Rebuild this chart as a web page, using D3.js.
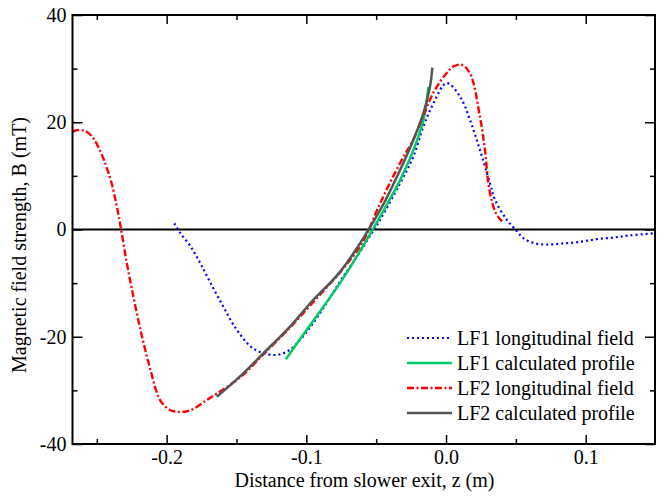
<!DOCTYPE html>
<html>
<head>
<meta charset="utf-8">
<script src="https://cdn.jsdelivr.net/npm/d3@7"></script>
<style>
  html, body { margin: 0; padding: 0; background: #fff; }
  svg text { font-family: "Liberation Serif", "Times New Roman", serif; fill: #000; }
</style>
</head>
<body>
<svg id="chart" width="665" height="496"></svg>
<script>
// ---- data (z in m, B in mT) ----
const lf1FieldZ = [-0.1945,-0.1904,-0.1833,-0.1761,-0.1689,-0.1594,-0.1498,-0.1379,-0.1236,-0.114,-0.1045,-0.0902,-0.0759,-0.0637,-0.0515,-0.0472,-0.0329,-0.0234,-0.0162,-0.0091,0.0005,0.0100,0.0172,0.0243,0.0315,0.0351,0.0435,0.0501,0.0553,0.0625,0.0721,0.0840,0.0959,0.1079,0.1198,0.1317,0.1496];
const lf1FieldB = [1.15,-0.6,-3.0,-6.2,-9.8,-14.4,-18.7,-22.2,-23.4,-22.8,-20.6,-15.6,-9.7,-5.0,0.0,1.8,8.6,13.6,19.2,23.5,27.3,24.8,20.4,14.8,8.6,5.5,1.8,-0.1,-1.6,-2.5,-2.8,-2.6,-2.3,-1.8,-1.5,-1.1,-0.7];

const lf1CalcZ = [-0.1147,-0.0997,-0.0759,-0.0615,-0.0472,-0.0329,-0.0234,-0.0162,-0.0126];
const lf1CalcB = [-24.2,-18.7,-10.0,-4.0,2.4,9.2,14.8,20.4,26.6];

const lf2FieldZ = [-0.2674,-0.2645,-0.261,-0.2565,-0.2525,-0.2485,-0.245,-0.240,-0.2356,-0.2326,-0.2287,-0.225,-0.219,-0.2118,-0.2047,-0.198,-0.1918,-0.1855,-0.1797,-0.1713,-0.1641,-0.1475,-0.1308,-0.1117,-0.095,-0.0759,-0.060,-0.0472,-0.0329,-0.0236,-0.0165,-0.0093,0.0005,0.0053,0.0112,0.0172,0.0243,0.0279,0.0303,0.0332,0.0358,0.0387,0.0415];
const lf2FieldB = [18.2,18.5,18.55,18.1,17.0,15.2,13.0,9.2,4.2,0.0,-6.0,-11.0,-18.4,-26.0,-31.8,-33.6,-34.0,-33.9,-33.3,-31.8,-30.6,-27.6,-23.3,-18.3,-13.5,-8.0,-2.5,4.9,12.4,16.7,21.0,25.4,29.2,30.4,30.7,29.1,21.0,14.8,8.6,4.9,3.0,1.9,1.2];

const lf2CalcZ = [-0.1641,-0.1475,-0.1308,-0.1117,-0.095,-0.0759,-0.0472,-0.0329,-0.0234,-0.0162,-0.0115,-0.0098];
const lf2CalcB = [-31.2,-27.4,-23.1,-18.1,-13.1,-7.9,3.6,11.1,16.7,21.7,26.6,30.2];

const xMajorTicks = [-0.2,-0.1,0.0,0.1];
const xMinorTicks = [-0.25,-0.15,-0.05,0.05];
const yMajorTicks = [-40,-20,0,20,40];
const yMinorTicks = [-30,-10,10,30];

const seriesNames = ["LF1 longitudinal field","LF1 calculated profile","LF2 longitudinal field","LF2 calculated profile"];

// ---- layout ----
const L = 72.5, R = 655, T = 15, B = 444;
const FS = 20;
const svg = d3.select("#chart");
const x = d3.scaleLinear().domain([-0.2674, 0.1496]).range([L, R]);
const y = d3.scaleLinear().domain([-40, 40]).range([B, T]);

const styles = [
  {color:"#0000ff", width:2.2, dash:"2,3"},
  {color:"#00cc66", width:2.5, dash:null},
  {color:"#ff0000", width:2.4, dash:"7,2.5,2,2.5"},
  {color:"#555555", width:2.5, dash:null}
];
const series = [
  [lf1FieldZ, lf1FieldB],
  [lf1CalcZ, lf1CalcB],
  [lf2FieldZ, lf2FieldB],
  [lf2CalcZ, lf2CalcB]
];

// zero line
svg.append("line")
  .attr("x1", x.range()[0]).attr("x2", x.range()[1])
  .attr("y1", y(0)).attr("y2", y(0))
  .attr("stroke", "#000").attr("stroke-width", 2);

const line = d3.line().x(d => x(d[0])).y(d => y(d[1])).curve(d3.curveCatmullRom.alpha(0.5));
const plotG = svg.append("g");
series.forEach((s, i) => {
  const pts = s[0].map((z, k) => [z, s[1][k]]);
  const st = styles[i];
  plotG.append("path")
    .attr("d", line(pts))
    .attr("fill", "none")
    .attr("stroke", st.color)
    .attr("stroke-width", st.width)
    .attr("stroke-dasharray", st.dash);
});

// axes with inward ticks
function styleAxis(g) {
  g.select(".domain").remove();
  g.selectAll(".tick line").attr("stroke", "#000").attr("stroke-width", 1.5);
  g.selectAll("text").attr("font-size", FS).attr("font-family", "Liberation Serif, serif");
}
const fmtX = d => d.toFixed(1);
const fmtY = d => String(d);

svg.append("g").attr("transform", `translate(0,${B})`)
  .call(d3.axisBottom(x).tickValues(xMajorTicks).tickSize(-9).tickPadding(6).tickFormat(fmtX))
  .call(styleAxis);
svg.append("g").attr("transform", `translate(0,${B})`)
  .call(d3.axisBottom(x).tickValues(xMinorTicks).tickSize(-5).tickFormat(""))
  .call(styleAxis);
svg.append("g").attr("transform", `translate(0,${T})`)
  .call(d3.axisTop(x).tickValues(xMajorTicks).tickSize(-9).tickFormat(""))
  .call(styleAxis);
svg.append("g").attr("transform", `translate(0,${T})`)
  .call(d3.axisTop(x).tickValues(xMinorTicks).tickSize(-5).tickFormat(""))
  .call(styleAxis);
svg.append("g").attr("transform", `translate(${L},0)`)
  .call(d3.axisLeft(y).tickValues(yMajorTicks).tickSize(-10).tickPadding(6).tickFormat(fmtY))
  .call(styleAxis);
svg.append("g").attr("transform", `translate(${L},0)`)
  .call(d3.axisLeft(y).tickValues(yMinorTicks).tickSize(-5).tickFormat(""))
  .call(styleAxis);
svg.append("g").attr("transform", `translate(${R},0)`)
  .call(d3.axisRight(y).tickValues(yMajorTicks).tickSize(-10).tickFormat(""))
  .call(styleAxis);
svg.append("g").attr("transform", `translate(${R},0)`)
  .call(d3.axisRight(y).tickValues(yMinorTicks).tickSize(-5).tickFormat(""))
  .call(styleAxis);

// frame
svg.append("rect")
  .attr("x", L).attr("y", T).attr("width", R - L).attr("height", B - T)
  .attr("fill", "none").attr("stroke", "#000").attr("stroke-width", 2);

// axis titles
svg.append("text")
  .attr("x", 364.5).attr("y", 487)
  .attr("text-anchor", "middle").attr("font-size", FS)
  .text("Distance from slower exit, z (m)");
svg.append("text")
  .attr("transform", `translate(26,245) rotate(-90)`)
  .attr("text-anchor", "middle").attr("font-size", FS)
  .text("Magnetic field strength, B (mT)");

// legend
const legend = svg.append("g");
const legY0 = 338, legDy = 25;
seriesNames.forEach((name, i) => {
  const st = styles[i];
  const yy = legY0 + i * legDy;
  legend.append("line")
    .attr("x1", 407).attr("x2", 452).attr("y1", yy).attr("y2", yy)
    .attr("stroke", st.color).attr("stroke-width", st.width)
    .attr("stroke-dasharray", st.dash);
  legend.append("text")
    .attr("x", 457).attr("y", yy + 7)
    .attr("font-size", FS)
    .text(name);
});
</script>
</body>
</html>
